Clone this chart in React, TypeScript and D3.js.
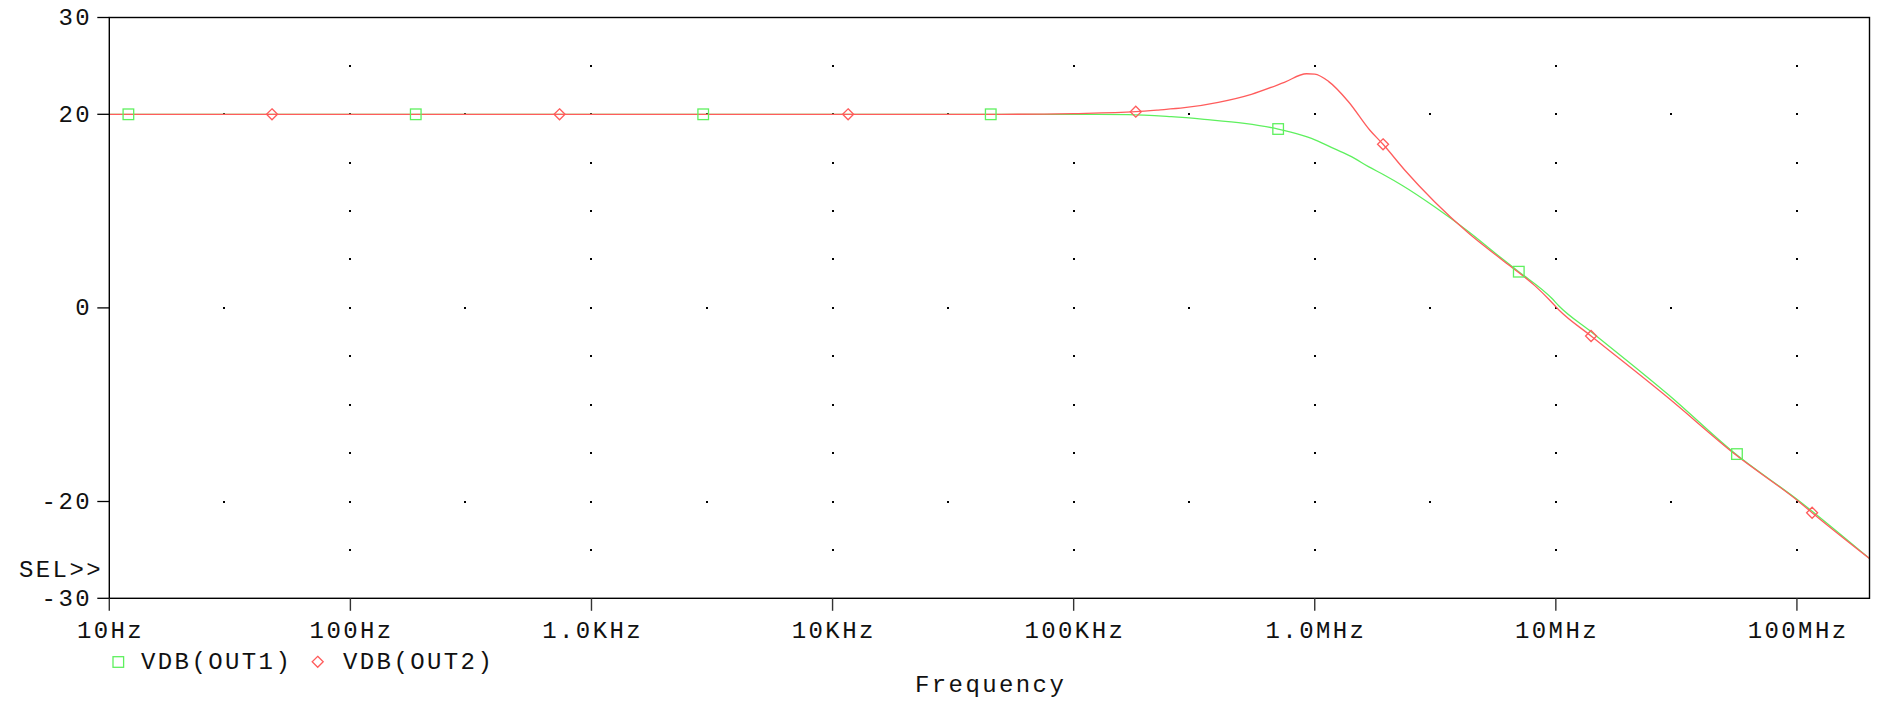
import * as d3 from 'd3'

// ── data ─────────────────────────────────────────────────────────────────────
const FREQ_OUT1 = [10, 1e3, 1e5, 1.68e5, 2.54e5, 3.48e5, 5.11e5, 7.05e5, 8.81e5, 9.69e5, 1.21e6, 1.42e6, 1.67e6, 1.94e6, 2.29e6, 3.14e6, 4.35e6, 5.96e6, 7.02e6, 9.62e6, 1.03e7, 1.4e7, 2.94e7, 5.52e7, 1.028e8, 2e8]
const DB_OUT1   = [20, 20, 19.99, 19.97, 19.75, 19.48, 19.07, 18.48, 17.86, 17.52, 16.42, 15.62, 14.59, 13.73, 12.7, 10.45, 7.87, 5.12, 3.74, 0.99, 0.2, -2.46, -9.0, -15.02, -20.0, -25.9]

const FREQ_OUT2 = [10, 5e4, 1e5, 1.81e5, 2.24e5, 2.88e5, 3.98e5, 5.46e5, 7.48e5, 9.25e5, 1.0e6, 1.14e6, 1.38e6, 1.69e6, 1.92e6, 2.36e6, 3.14e6, 4.35e6, 5.96e6, 8.18e6, 9.35e6, 1.03e7, 1.4e7, 2.94e7, 5.52e7, 1.028e8, 1.156e8, 2e8]
const DB_OUT2   = [20, 20, 20.08, 20.27, 20.44, 20.68, 21.24, 22.07, 23.3, 24.19, 24.15, 23.4, 21.3, 18.38, 16.9, 14.25, 10.97, 7.71, 5.0, 2.3, 0.9, -0.22, -2.9, -9.34, -15.1, -20.1, -21.16, -25.9]

// marker symbols PSpice drops along each trace
const MARK_FREQ_OUT1 = [12, 186.7, 2907, 45300, 7.05e5, 7.02e6, 5.64e7]
const MARK_DB_OUT1   = [20, 20, 20, 20, 18.48, 3.74, -15.1]
const MARK_FREQ_OUT2 = [47.3, 737, 11600, 1.81e5, 1.92e6, 1.4e7, 1.156e8]
const MARK_DB_OUT2   = [20, 20, 20, 20.27, 16.9, -2.9, -21.16]

const X_TICKS  = [10, 100, 1e3, 1e4, 1e5, 1e6, 1e7, 1e8]
const X_LABELS = ['10Hz', '100Hz', '1.0KHz', '10KHz', '100KHz', '1.0MHz', '10MHz', '100MHz']
const Y_TICKS  = [30, 20, 0, -20, -30]
const Y_LABELS = ['30', '20', '0', '-20', '-30']
const DOT_ROWS   = [25, 20, 15, 10, 5, 0, -5, -10, -15, -20, -25]
const MAJOR_ROWS = [20, 0, -20]

// ── constants ────────────────────────────────────────────────────────────────
const W = 1877
const H = 708
const PL = 109.3, PR = 1869.5, PT = 17.5, PB = 598.3
const C_OUT1 = '#5ef05e'
const C_OUT2 = '#ff5c5c'
const FONT = '"Liberation Mono", "Courier New", monospace'
const FS = 24
const LS = 2.4

export default function App() {
  const x = d3.scaleLog().domain([10, 2e8]).range([PL, PR])
  const y = d3.scaleLinear().domain([-30, 30]).range([PB, PT])

  const s1 = FREQ_OUT1.map((f, i) => ({ f, db: DB_OUT1[i] }))
  const s2 = FREQ_OUT2.map((f, i) => ({ f, db: DB_OUT2[i] }))
  const line = d3.line<{ f: number; db: number }>()
    .x(d => x(d.f))
    .y(d => y(d.db))
    .curve(d3.curveMonotoneX)

  // grid dots: every decade on each 5 dB row, plus the 3x points on the labelled rows
  const decades = X_TICKS.slice(1)
  const dots: [number, number][] = []
  DOT_ROWS.forEach(r => {
    decades.forEach(f => dots.push([f, r]))
    if (MAJOR_ROWS.includes(r)) decades.forEach(f => dots.push([f * 0.3, r]))
  })

  const diamond = (cx: number, cy: number, r = 5.5) =>
    `M${cx},${cy - r}L${cx + r},${cy}L${cx},${cy + r}L${cx - r},${cy}Z`

  const txt = { fontFamily: FONT, fontSize: FS, letterSpacing: LS, fill: '#111' } as const

  return (
    <svg width={W} height={H} viewBox={`0 0 ${W} ${H}`}
      style={{ position: 'absolute', left: 0, top: 0, background: '#fff', display: 'block' }}>
      <rect width={W} height={H} fill="#fff" />

      {/* grid dots */}
      {dots.map(([f, r], i) => (
        <rect key={i} x={Math.round(x(f)) - 1} y={Math.round(y(r)) - 1} width={2} height={2}
          fill="#000" shapeRendering="crispEdges" />
      ))}

      {/* traces */}
      <path d={line(s1) ?? ''} fill="none" stroke={C_OUT1} strokeWidth={1.3} />
      <path d={line(s2) ?? ''} fill="none" stroke={C_OUT2} strokeWidth={1.3} />

      {MARK_FREQ_OUT1.map((f, i) => (
        <rect key={`m1${i}`} x={x(f) - 5.3} y={y(MARK_DB_OUT1[i]) - 5.3} width={10.6} height={10.6}
          fill="none" stroke={C_OUT1} strokeWidth={1.3} />
      ))}
      {MARK_FREQ_OUT2.map((f, i) => (
        <path key={`m2${i}`} d={diamond(x(f), y(MARK_DB_OUT2[i]))}
          fill="none" stroke={C_OUT2} strokeWidth={1.3} />
      ))}

      {/* frame */}
      <rect x={PL} y={PT} width={PR - PL} height={PB - PT} fill="none" stroke="#000" strokeWidth={1.4} />

      {/* y axis */}
      {Y_TICKS.map((v, i) => (
        <g key={`y${v}`}>
          <line x1={PL - 12} x2={PL} y1={y(v)} y2={y(v)} stroke="#000" strokeWidth={1.3} />
          <text x={92} y={y(v) + 7.5} textAnchor="end" {...txt}>{Y_LABELS[i]}</text>
        </g>
      ))}

      {/* x axis */}
      {X_TICKS.map((v, i) => (
        <g key={`x${v}`}>
          <line x1={x(v)} x2={x(v)} y1={PB} y2={PB + 12.5} stroke="#333" strokeWidth={1.4} />
          <text x={x(v) + LS / 2} y={637.5} textAnchor="middle" {...txt}>{X_LABELS[i]}</text>
        </g>
      ))}

      <text x={19} y={576.5} {...txt}>SEL&gt;&gt;</text>
      <text x={(PL + PR) / 2 + LS / 2} y={691.5} textAnchor="middle" {...txt}>Frequency</text>

      {/* legend */}
      <rect x={113} y={656.7} width={10.6} height={10.6} fill="none" stroke={C_OUT1} strokeWidth={1.3} />
      <text x={141} y={669} {...txt}>VDB(OUT1)</text>
      <path d={diamond(317.7, 661.8)} fill="none" stroke={C_OUT2} strokeWidth={1.3} />
      <text x={343} y={669} {...txt}>VDB(OUT2)</text>
    </svg>
  )
}
